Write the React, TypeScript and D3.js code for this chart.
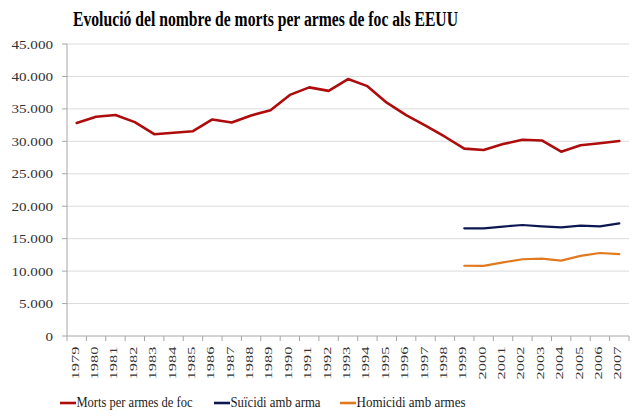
import React from "react";
import * as d3 from "d3";

const years = [
  "1979", "1980", "1981", "1982", "1983", "1984", "1985", "1986", "1987", "1988",
  "1989", "1990", "1991", "1992", "1993", "1994", "1995", "1996", "1997", "1998",
  "1999", "2000", "2001", "2002", "2003", "2004", "2005", "2006", "2007",
];

const mortsArmes = [
  32836, 33780, 34050, 32957, 31099, 31331, 31566, 33373, 32895, 33989,
  34776, 37155, 38317, 37776, 39595, 38505, 35957, 34040, 32436, 30708,
  28874, 28663, 29573, 30242, 30136, 28400, 29400, 29700, 30050,
];

const suicidiYears = ["1999", "2000", "2001", "2002", "2003", "2004", "2005", "2006", "2007"];
const suicidi = [16599, 16586, 16869, 17108, 16907, 16750, 17002, 16883, 17352];
const homicidi = [10828, 10801, 11348, 11829, 11920, 11624, 12352, 12791, 12632];

const yTicks = [0, 5000, 10000, 15000, 20000, 25000, 30000, 35000, 40000, 45000];

const title = "Evolució del nombre de morts per armes de foc als EEUU";
const seriesNames = ["Morts per armes de foc", "Suïcidi amb arma", "Homicidi amb armes"];
const colors = ["#AE0C0C", "#0D1850", "#E07A1F"];

const W = 640;
const H = 419;
const left = 67;
const right = 629;
const top = 44;
const bottom = 336;
const FONT = "Liberation Serif";

export default function App() {
  const x = d3.scaleBand<string>().domain(years).range([left, right]);
  const y = d3.scaleLinear().domain([0, 45000]).range([bottom, top]);
  const cx = (yr: string) => (x(yr) as number) + x.bandwidth() / 2;
  const fmt = (v: number) => d3.format(",")(v).replace(/,/g, ".");

  const line = d3
    .line<[string, number]>()
    .x((d) => cx(d[0]))
    .y((d) => y(d[1]));

  const series: [string, number][][] = [
    years.map((yr, i) => [yr, mortsArmes[i]]),
    suicidiYears.map((yr, i) => [yr, suicidi[i]]),
    suicidiYears.map((yr, i) => [yr, homicidi[i]]),
  ];

  const tickEdges = years.map((yr) => x(yr) as number).concat([right]);
  const legendX = [60, 214, 340];
  const legendLen = [116, 90, 109];

  return (
    <svg
      width={W}
      height={H}
      style={{ position: "absolute", left: 0, top: 0, background: "#fff", fontFamily: FONT }}
    >
      <text
        x={73}
        y={26}
        fontSize={20}
        fontWeight="bold"
        fill="#000"
        textLength={385}
        lengthAdjust="spacingAndGlyphs"
        style={{ fontFamily: FONT }}
      >
        {title}
      </text>

      {yTicks.map((t) => {
        const label = fmt(t);
        return (
          <g key={t}>
            {t > 0 && (
              <line x1={left} x2={right} y1={y(t)} y2={y(t)} stroke="#DCDCDC" strokeWidth={1} />
            )}
            <line x1={left - 5} x2={left} y1={y(t)} y2={y(t)} stroke="#A6A6A6" />
            <text
              x={53}
              y={y(t) + 4.5}
              textAnchor="end"
              fontSize={13.5}
              fill="#333333"
              textLength={label.length * 7.5 - (label.includes(".") ? 3.5 : 0)}
              lengthAdjust="spacingAndGlyphs"
              style={{ fontFamily: FONT }}
            >
              {label}
            </text>
          </g>
        );
      })}

      <line x1={left} x2={left} y1={top} y2={bottom} stroke="#A6A6A6" />
      <line x1={left} x2={right} y1={bottom} y2={bottom} stroke="#A6A6A6" />
      {tickEdges.map((tx, i) => (
        <line key={i} x1={tx} x2={tx} y1={bottom} y2={bottom + 5} stroke="#A6A6A6" />
      ))}

      {years.map((yr) => (
        <text
          key={yr}
          transform={`translate(${cx(yr) + 2},${bottom + 10.5}) rotate(-90)`}
          textAnchor="end"
          fontSize={11}
          fill="#333333"
          textLength={33}
          lengthAdjust="spacingAndGlyphs"
          style={{ fontFamily: FONT }}
        >
          {yr}
        </text>
      ))}

      {series.map((s, i) => (
        <path
          key={i}
          d={line(s) as string}
          fill="none"
          stroke={colors[i]}
          strokeWidth={i === 0 ? 2.6 : 2.2}
          strokeLinejoin="round"
          strokeLinecap="round"
        />
      ))}

      {seriesNames.map((n, i) => (
        <g key={n}>
          <line
            x1={legendX[i]}
            x2={legendX[i] + 16}
            y1={403}
            y2={403}
            stroke={colors[i]}
            strokeWidth={2.6}
          />
          <text
            x={legendX[i] + 16.5}
            y={407}
            fontSize={14}
            fill="#1a1a1a"
            textLength={legendLen[i]}
            lengthAdjust="spacingAndGlyphs"
            style={{ fontFamily: FONT }}
          >
            {n}
          </text>
        </g>
      ))}
    </svg>
  );
}
